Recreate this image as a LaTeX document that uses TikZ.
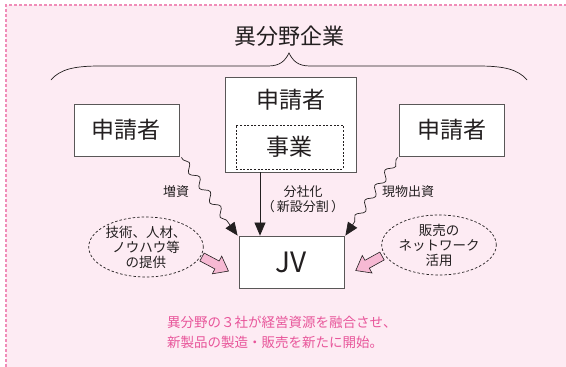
\documentclass[tikz,border=0pt]{standalone}
\usepackage{fontspec}
\setmainfont{Noto Sans CJK JP}
\usetikzlibrary{arrows.meta,decorations.pathmorphing,shapes.geometric}
\definecolor{bgpink}{HTML}{FDEBF3}
\definecolor{brdpink}{HTML}{F08CB8}
\definecolor{txt}{HTML}{231F20}
\definecolor{boxline}{HTML}{595757}
\definecolor{arrpink}{HTML}{F6B9D3}
\definecolor{msgpink}{HTML}{E8559A}
\tikzset{
  box/.style={draw=boxline,line width=0.8pt,fill=white,text=txt,inner sep=0pt},
  lbl/.style={text=txt,font=\fontsize{13}{15}\selectfont,align=center,inner sep=0pt},
  oval/.style={ellipse,draw=txt,dashed,dash pattern=on 2.5pt off 2pt,line width=0.7pt,minimum width=112pt,minimum height=60pt,inner sep=0pt,text=txt,align=center,font=\fontsize{13.5}{15}\selectfont},
  blockarrow/.style={draw=txt,line width=0.6pt,fill=arrpink,line join=miter},
  wavy/.style={draw=txt,line width=0.7pt,-{Triangle[length=13pt,width=11pt]},decorate,decoration={snake,segment length=18pt,amplitude=3.5pt,pre length=3pt,post length=14pt}},
  tip/.style={-{Triangle[length=13pt,width=11pt]},draw=txt,line width=0.7pt}
}
\begin{document}
\begin{tikzpicture}[x=1pt,y=-1pt]
\useasboundingbox (0,0) rectangle (566,367);
\fill[white] (0,0) rectangle (566,367);
\fill[bgpink] (6,5) rectangle (566,367);
\draw[brdpink,line width=1.2pt,dash pattern=on 3pt off 2pt] (6,367) -- (6,5) -- (566,5);

% title and brace
\node[text=txt,font=\fontsize{22}{24}\selectfont,inner sep=0pt] (title) at (289,36) {異分野企業};
\coordinate (bl) at (51,80);
\coordinate (br) at (527,80);
\coordinate (bt) at (289,53);
\draw[txt,line width=0.7pt] (bl) .. controls (60,69) and (75,66) .. (100,66) -- (268,66)
  .. controls (280,66) and (285,61) .. (bt) .. controls (293,61) and (298,66) .. (310,66)
  -- (478,66) .. controls (503,66) and (518,69) .. (br);

% boxes
\node[box,minimum width=131pt,minimum height=95pt] (C) at (290.5,124.5) {};
\node[text=txt,font=\fontsize{23}{25}\selectfont,inner sep=0pt] (Ct) at (290.5,100) {申請者};
\node[draw=txt,dashed,dash pattern=on 2pt off 1.6pt,line width=0.7pt,minimum width=107pt,minimum height=44pt,inner sep=0pt,text=txt,font=\fontsize{23}{25}\selectfont] (CE) at (289.5,147) {事業};

\node[box,minimum width=105pt,minimum height=52pt,font=\fontsize{23}{25}\selectfont] (L) at (126.5,130) {申請者};
\node[box,minimum width=105pt,minimum height=52pt,font=\fontsize{23}{25}\selectfont] (R) at (451.5,130) {申請者};

\node[box,minimum width=105pt,minimum height=52pt,font=\fontsize{28}{30}\selectfont] (JV) at (291.5,262) {JV};

% connectors
\draw[tip] (C.south -| 260,0) -- (JV.north -| 260,0);
\draw[wavy] ([xshift=2pt,yshift=-1pt]L.south east) -- ([xshift=-1pt]JV.north west);
\draw[wavy] ([xshift=-1pt,yshift=-1pt]R.south west) -- ([xshift=1pt]JV.north east);

% labels
\node[lbl] (l1) at (176,192) {増資};
\node[lbl] (l2) at (303,199) {分社化\\（\,新設分割\,）};
\node[lbl] (l3) at (408,192) {現物出資};

% ellipses
\node[oval] (EL) at (146,247) {技術、人材、\\ノウハウ等\\の提供};
\node[oval,minimum width=114pt] (ER) at (439,245) {販売の\\ネットワーク\\活用};

% pink block arrows
\begin{scope}[shift={(202,257)},rotate=-28]
\draw[blockarrow] (0,-4.5) -- (17,-4.5) -- (17,-10) -- (30,0) -- (17,10) -- (17,4.5) -- (0,4.5) -- cycle;
\end{scope}
\begin{scope}[shift={(382,256)},rotate=-151]
\draw[blockarrow] (0,-4.5) -- (17,-4.5) -- (17,-10) -- (30,0) -- (17,10) -- (17,4.5) -- (0,4.5) -- cycle;
\end{scope}

% message
\node[text=msgpink,font=\fontsize{13.5}{20}\selectfont,align=left,inner sep=0pt,anchor=north west] (msg) at (167,316) {異分野の３社が経営資源を融合させ、\\新製品の製造・販売を新たに開始。};
\end{tikzpicture}
\end{document}
